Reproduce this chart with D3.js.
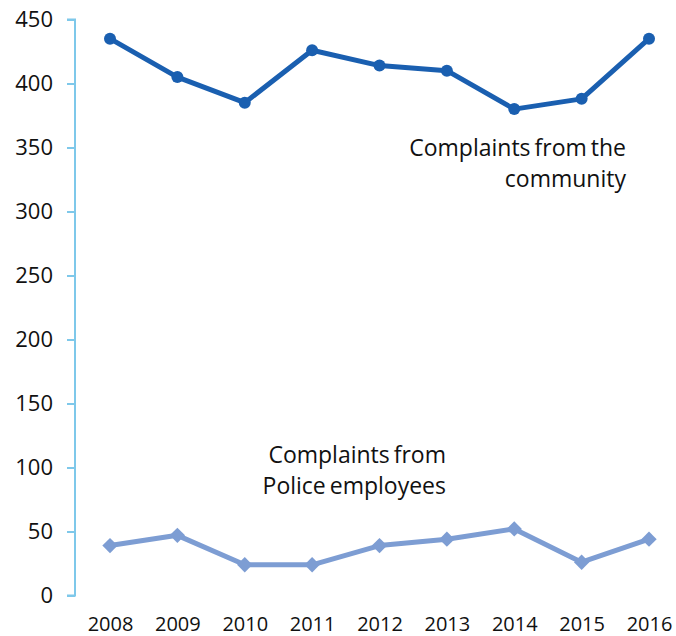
<!DOCTYPE html>
<html>
<head>
<meta charset="utf-8">
<script src="https://cdn.jsdelivr.net/npm/d3@7"></script>
<style>
  html, body { margin: 0; padding: 0; background: #fff; }
  svg { display: block; }
  text { font-family: "Open Sans", sans-serif; fill: #111; }
</style>
</head>
<body>
<svg id="chart" width="676" height="636"></svg>
<script>
// Complaints received per year
const years = [2008, 2009, 2010, 2011, 2012, 2013, 2014, 2015, 2016];
const community = [435, 405, 385, 426, 414, 410, 380, 388, 435];
const police = [39, 47, 24, 24, 39, 44, 52, 26, 44];
const yTicks = [0, 50, 100, 150, 200, 250, 300, 350, 400, 450];

const svg = d3.select("#chart");

const x = d3.scalePoint().domain(years).range([110, 649]);
const y = d3.scaleLinear().domain([0, 450]).range([595.5, 19.5]);

// Y axis: light blue spine with outward ticks
const yAxis = d3.axisLeft(y).tickValues(yTicks).tickSize(8).tickPadding(14);
const gy = svg.append("g").attr("transform", "translate(75,0)").call(yAxis);
gy.select(".domain").attr("stroke", "#7ec8ea").attr("stroke-width", 2).attr("d", `M-8,${y(450)}H0V${y(0)}H-8`);
gy.selectAll(".tick line").attr("stroke", "#7ec8ea").attr("stroke-width", 2);
gy.selectAll(".tick text").attr("font-size", 22).attr("font-family", "'Open Sans', sans-serif").attr("fill", "#111");

// X labels only
const xAxis = d3.axisBottom(x).tickSize(0).tickPadding(0);
const gx = svg.append("g").attr("transform", "translate(0,617)").call(xAxis);
gx.select(".domain").remove();
gx.selectAll(".tick text").attr("font-size", 20).attr("font-family", "'Open Sans', sans-serif").attr("fill", "#111");

const line = d3.line().x((d, i) => x(years[i])).y(d => y(d));

// Community series: dark blue line with round markers
svg.append("path").datum(community).attr("d", line)
  .attr("fill", "none").attr("stroke", "#1a5fb0").attr("stroke-width", 5).attr("stroke-linejoin", "round");
svg.selectAll("circle.comm").data(community).enter().append("circle")
  .attr("class", "comm").attr("cx", (d, i) => x(years[i])).attr("cy", d => y(d)).attr("r", 6)
  .attr("fill", "#1a5fb0");

// Police series: light blue line with diamond markers
svg.append("path").datum(police).attr("d", line)
  .attr("fill", "none").attr("stroke", "#7d9dd3").attr("stroke-width", 5).attr("stroke-linejoin", "round");
const diamond = d3.symbol().type(d3.symbolDiamond2).size(150);
svg.selectAll("path.pol").data(police).enter().append("path")
  .attr("class", "pol").attr("d", diamond)
  .attr("transform", (d, i) => `translate(${x(years[i])},${y(d)})`)
  .attr("fill", "#7d9dd3");

// Series labels
const lab1 = svg.append("text").attr("text-anchor", "end").attr("font-size", 23).attr("word-spacing", -2);
lab1.append("tspan").attr("x", 626).attr("y", 156).text("Complaints from the");
lab1.append("tspan").attr("x", 626).attr("y", 187).text("community");

const lab2 = svg.append("text").attr("text-anchor", "end").attr("font-size", 23).attr("word-spacing", -2);
lab2.append("tspan").attr("x", 446).attr("y", 463).text("Complaints from");
lab2.append("tspan").attr("x", 446).attr("y", 494).text("Police employees");
</script>
</body>
</html>
